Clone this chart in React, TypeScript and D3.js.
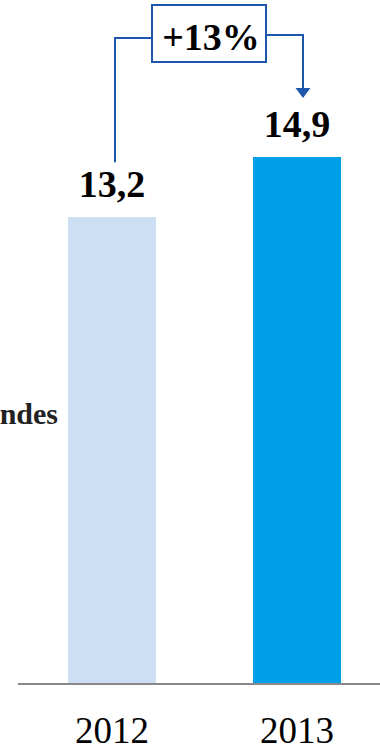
import React from "react";
import * as d3 from "d3";

const years = ["2012", "2013"];
const values = [13.2, 14.9];
const valueLabels = ["13,2", "14,9"];
const changeLabel = "+13%";
const sideLabel = "ndes";
const barColors = ["#cddff4", "#009fe9"];

export default function App() {
  const W = 380;
  const H = 751;
  const baseY = 684;
  const x = d3
    .scaleBand<string>()
    .domain(years)
    .range([21.75, 387.25])
    .paddingInner(0.5243)
    .paddingOuter(0.25);
  const y = d3.scaleLinear().domain([0, 14.9]).range([baseY, 157]);
  const blue = "#1f56ad";
  const font = "'Liberation Serif', 'Times New Roman', serif";

  const c0 = (x(years[0]) ?? 0) + x.bandwidth() / 2;
  const c1 = (x(years[1]) ?? 0) + x.bandwidth() / 2;

  const boxX0 = 152;
  const boxX1 = 266;
  const boxY0 = 5;
  const boxY1 = 62;
  const leftLineX = c0 + 3;
  const rightLineX = c1 + 6;

  return (
    <svg
      width={W}
      height={H}
      style={{ position: "absolute", left: 0, top: 0, background: "#fff" }}
    >
      {years.map((yr, i) => (
        <rect
          key={yr}
          x={x(yr)}
          y={y(values[i])}
          width={x.bandwidth()}
          height={baseY - y(values[i])}
          fill={barColors[i]}
        />
      ))}
      <line x1={18} x2={380} y1={baseY} y2={baseY} stroke="#888" strokeWidth={2} />
      {years.map((yr, i) => (
        <text
          key={"yl" + yr}
          x={(x(yr) ?? 0) + x.bandwidth() / 2}
          y={743}
          textAnchor="middle"
          fontFamily={font}
          fontSize={37}
          fill="#000"
        >
          {yr}
        </text>
      ))}
      {years.map((yr, i) => (
        <text
          key={"vl" + yr}
          x={(x(yr) ?? 0) + x.bandwidth() / 2}
          y={y(values[i]) - 20}
          textAnchor="middle"
          fontFamily={font}
          fontSize={38}
          fontWeight="bold"
          fill="#000"
        >
          {valueLabels[i]}
        </text>
      ))}
      <text
        x={58}
        y={424}
        textAnchor="end"
        fontFamily={font}
        fontSize={30}
        fontWeight="bold"
        fill="#222"
      >
        {sideLabel}
      </text>
      {/* change annotation */}
      <polyline
        points={`${leftLineX},${y(values[0]) - 55} ${leftLineX},38 ${boxX0},38`}
        fill="none"
        stroke={blue}
        strokeWidth={2}
      />
      <polyline
        points={`${boxX1},35 ${rightLineX},35 ${rightLineX},89`}
        fill="none"
        stroke={blue}
        strokeWidth={2}
      />
      <path
        d={`M${rightLineX - 7.5},88 L${rightLineX + 7.5},88 L${rightLineX},98 Z`}
        fill={blue}
      />
      <rect
        x={boxX0}
        y={boxY0}
        width={boxX1 - boxX0}
        height={boxY1 - boxY0}
        fill="#fff"
        stroke={blue}
        strokeWidth={2}
      />
      <text
        x={(boxX0 + boxX1) / 2 + 2}
        y={50}
        textAnchor="middle"
        fontFamily={font}
        fontSize={38}
        fontWeight="bold"
        fill="#000"
      >
        {changeLabel}
      </text>
    </svg>
  );
}
